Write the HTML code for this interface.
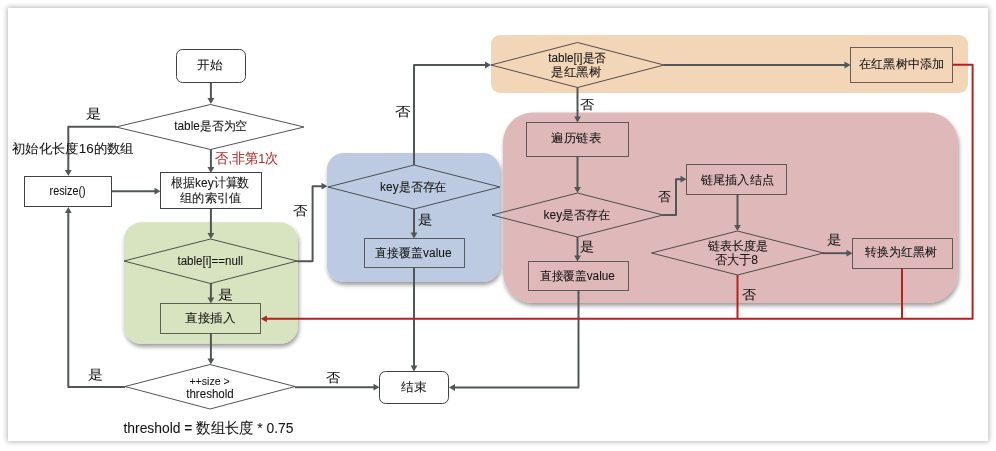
<!DOCTYPE html>
<html><head><meta charset="utf-8">
<style>
html,body{margin:0;padding:0;background:#fff;width:996px;height:451px;overflow:hidden}
.card{position:absolute;left:8px;top:8px;width:979.5px;height:433px;background:#fff;box-shadow:0 0 5px 1px rgba(0,0,0,0.28)}
svg{position:absolute;left:0;top:0;will-change:transform}
text{font-family:"Liberation Sans",sans-serif;dominant-baseline:central;stroke:currentColor;stroke-width:0.08px}
</style></head><body>
<div class="card"></div>
<svg width="996" height="451" viewBox="0 0 996 451">
<defs>
<filter id="sh" x="-10%" y="-10%" width="125%" height="130%">
<feGaussianBlur in="SourceAlpha" stdDeviation="2.2"/>
<feOffset dx="1.2" dy="2.5" result="o"/>
<feComponentTransfer><feFuncA type="linear" slope="0.4"/></feComponentTransfer>
<feMerge><feMergeNode/><feMergeNode in="SourceGraphic"/></feMerge>
</filter>
</defs>
<rect x="123.7" y="222.3" width="174.3" height="121.5" rx="18" fill="#D8E3BF" filter="url(#sh)"/>
<rect x="326.8" y="153" width="173.1" height="128.9" rx="17" fill="#BCCBE2" filter="url(#sh)"/>
<rect x="491" y="35" width="477" height="58" rx="9" fill="#F3D5B8"/>
<rect x="503" y="112.5" width="455" height="190.3" rx="30" fill="#DFB9B9" filter="url(#sh)"/>
<path d="M210.90 82.50 L210.90 99.00" fill="none" stroke="#515756" stroke-width="2" stroke-linejoin="round"/>
<path d="M210.90 104.00 L207.50 98.00 L214.30 98.00 Z" fill="#515756"/>
<path d="M116.00 126.80 L68.30 126.80 L68.30 171.00" fill="none" stroke="#515756" stroke-width="2" stroke-linejoin="round"/>
<path d="M68.30 176.00 L64.90 170.00 L71.70 170.00 Z" fill="#515756"/>
<path d="M210.90 149.00 L210.90 168.00" fill="none" stroke="#515756" stroke-width="2" stroke-linejoin="round"/>
<path d="M210.90 173.00 L207.50 167.00 L214.30 167.00 Z" fill="#515756"/>
<path d="M112.00 191.20 L155.50 191.20" fill="none" stroke="#515756" stroke-width="2" stroke-linejoin="round"/>
<path d="M160.50 191.20 L154.50 194.60 L154.50 187.80 Z" fill="#515756"/>
<path d="M210.90 209.00 L210.90 234.00" fill="none" stroke="#515756" stroke-width="2" stroke-linejoin="round"/>
<path d="M210.90 239.00 L207.50 233.00 L214.30 233.00 Z" fill="#515756"/>
<path d="M297.00 261.20 L312.60 261.20 L312.60 186.20 L322.50 186.20" fill="none" stroke="#515756" stroke-width="2" stroke-linejoin="round"/>
<path d="M327.50 186.20 L321.50 189.60 L321.50 182.80 Z" fill="#515756"/>
<path d="M210.90 283.00 L210.90 298.50" fill="none" stroke="#515756" stroke-width="2" stroke-linejoin="round"/>
<path d="M210.90 303.50 L207.50 297.50 L214.30 297.50 Z" fill="#515756"/>
<path d="M210.90 333.50 L210.90 359.50" fill="none" stroke="#515756" stroke-width="2" stroke-linejoin="round"/>
<path d="M210.90 364.50 L207.50 358.50 L214.30 358.50 Z" fill="#515756"/>
<path d="M125.00 386.90 L68.30 386.90 L68.30 212.00" fill="none" stroke="#515756" stroke-width="2" stroke-linejoin="round"/>
<path d="M68.30 207.00 L71.70 213.00 L64.90 213.00 Z" fill="#515756"/>
<path d="M295.00 387.20 L374.50 387.20" fill="none" stroke="#515756" stroke-width="2" stroke-linejoin="round"/>
<path d="M379.50 387.20 L373.50 390.60 L373.50 383.80 Z" fill="#515756"/>
<path d="M414.00 165.00 L414.00 65.00 L486.00 65.00" fill="none" stroke="#515756" stroke-width="2" stroke-linejoin="round"/>
<path d="M491.00 65.00 L485.00 68.40 L485.00 61.60 Z" fill="#515756"/>
<path d="M414.00 209.00 L414.00 233.50" fill="none" stroke="#515756" stroke-width="2" stroke-linejoin="round"/>
<path d="M414.00 238.50 L410.60 232.50 L417.40 232.50 Z" fill="#515756"/>
<path d="M414.00 268.00 L414.00 366.50" fill="none" stroke="#515756" stroke-width="2" stroke-linejoin="round"/>
<path d="M414.00 371.50 L410.60 365.50 L417.40 365.50 Z" fill="#515756"/>
<path d="M664.00 65.00 L845.50 65.00" fill="none" stroke="#515756" stroke-width="2" stroke-linejoin="round"/>
<path d="M850.50 65.00 L844.50 68.40 L844.50 61.60 Z" fill="#515756"/>
<path d="M577.50 87.50 L577.50 117.50" fill="none" stroke="#515756" stroke-width="2" stroke-linejoin="round"/>
<path d="M577.50 122.50 L574.10 116.50 L580.90 116.50 Z" fill="#515756"/>
<path d="M577.50 156.50 L577.50 188.00" fill="none" stroke="#515756" stroke-width="2" stroke-linejoin="round"/>
<path d="M577.50 193.00 L574.10 187.00 L580.90 187.00 Z" fill="#515756"/>
<path d="M663.00 215.00 L676.00 215.00 L676.00 179.20 L681.50 179.20" fill="none" stroke="#515756" stroke-width="2" stroke-linejoin="round"/>
<path d="M686.50 179.20 L680.50 182.60 L680.50 175.80 Z" fill="#515756"/>
<path d="M577.50 237.00 L577.50 256.50" fill="none" stroke="#515756" stroke-width="2" stroke-linejoin="round"/>
<path d="M577.50 261.50 L574.10 255.50 L580.90 255.50 Z" fill="#515756"/>
<path d="M578.50 290.50 L578.50 387.50 L454.00 387.50" fill="none" stroke="#515756" stroke-width="2" stroke-linejoin="round"/>
<path d="M449.00 387.50 L455.00 384.10 L455.00 390.90 Z" fill="#515756"/>
<path d="M737.50 194.50 L737.50 226.00" fill="none" stroke="#515756" stroke-width="2" stroke-linejoin="round"/>
<path d="M737.50 231.00 L734.10 225.00 L740.90 225.00 Z" fill="#515756"/>
<path d="M823.00 253.20 L847.50 253.20" fill="none" stroke="#515756" stroke-width="2" stroke-linejoin="round"/>
<path d="M852.50 253.20 L846.50 256.60 L846.50 249.80 Z" fill="#515756"/>
<path d="M952.70 64.80 L972.60 64.80 L972.60 318.80 L265.80 318.80" fill="none" stroke="#B42222" stroke-width="2" stroke-linejoin="round"/>
<path d="M260.80 318.80 L266.80 315.40 L266.80 322.20 Z" fill="#B42222"/>
<path d="M737.50 275.00 L737.50 318.80" fill="none" stroke="#B42222" stroke-width="2" stroke-linejoin="round"/>
<path d="M902.00 268.50 L902.00 318.80" fill="none" stroke="#B42222" stroke-width="2" stroke-linejoin="round"/>
<rect x="176.50" y="49.50" width="69.00" height="33.00" rx="6" fill="#fff" stroke="#404040" stroke-width="1"/>
<path d="M210.50 104.50 L304.00 127.00 L210.50 149.50 L116.00 127.00 Z" fill="#fff" stroke="#404040" stroke-width="0.9"/>
<rect x="24.50" y="176.50" width="87.00" height="30.00" rx="0" fill="#fff" stroke="#404040" stroke-width="1"/>
<rect x="160.50" y="172.50" width="101.00" height="36.00" rx="0" fill="#fff" stroke="#404040" stroke-width="1"/>
<path d="M210.50 239.00 L297.00 261.00 L210.50 283.50 L124.00 261.00 Z" fill="none" stroke="#404040" stroke-width="0.9"/>
<rect x="160.50" y="303.50" width="100.00" height="30.00" rx="0" fill="none" stroke="#404040cc" stroke-width="1"/>
<path d="M210.00 364.50 L295.00 386.50 L210.00 409.00 L125.00 386.50 Z" fill="#fff" stroke="#404040" stroke-width="0.9"/>
<rect x="379.50" y="371.50" width="69.00" height="32.00" rx="6" fill="#fff" stroke="#404040" stroke-width="1"/>
<path d="M414.00 165.00 L500.00 187.00 L414.00 209.00 L328.00 187.00 Z" fill="none" stroke="#404040" stroke-width="0.9"/>
<rect x="364.50" y="238.50" width="100.00" height="29.00" rx="0" fill="none" stroke="#404040cc" stroke-width="1"/>
<path d="M577.50 42.50 L664.00 65.00 L577.50 87.50 L491.00 65.00 Z" fill="none" stroke="#404040" stroke-width="0.9"/>
<rect x="850.50" y="47.50" width="102.00" height="35.00" rx="0" fill="none" stroke="#404040cc" stroke-width="1"/>
<rect x="526.50" y="122.50" width="102.00" height="34.00" rx="0" fill="none" stroke="#404040cc" stroke-width="1"/>
<path d="M577.50 193.00 L663.00 215.00 L577.50 237.00 L492.00 215.00 Z" fill="none" stroke="#404040" stroke-width="0.9"/>
<rect x="528.50" y="261.50" width="100.00" height="29.00" rx="0" fill="none" stroke="#404040cc" stroke-width="1"/>
<rect x="686.50" y="164.50" width="100.00" height="30.00" rx="0" fill="none" stroke="#404040cc" stroke-width="1"/>
<path d="M737.50 231.00 L823.50 253.00 L737.50 275.00 L651.50 253.00 Z" fill="none" stroke="#404040" stroke-width="0.9"/>
<rect x="852.50" y="238.50" width="100.00" height="30.00" rx="0" fill="none" stroke="#404040cc" stroke-width="1"/>
<text x="209.75" y="65.40" font-size="12" fill="#161616" style="color:#161616" text-anchor="middle" textLength="25.25" lengthAdjust="spacingAndGlyphs">开始</text>
<text x="210.75" y="126.35" font-size="12" fill="#161616" style="color:#161616" text-anchor="middle" textLength="73.03" lengthAdjust="spacingAndGlyphs">table是否为空</text>
<text x="94.00" y="113.90" font-size="13" fill="#161616" style="color:#161616" text-anchor="middle" textLength="15.36" lengthAdjust="spacingAndGlyphs">是</text>
<text x="72.85" y="148.10" font-size="13" fill="#161616" style="color:#161616" text-anchor="middle" textLength="122.08" lengthAdjust="spacingAndGlyphs">初始化长度16的数组</text>
<text x="246.95" y="158.90" font-size="13.5" fill="#B52B27" style="color:#B52B27" text-anchor="middle" textLength="63.16" lengthAdjust="spacingAndGlyphs">否,非第1次</text>
<text x="67.60" y="190.70" font-size="12" fill="#161616" style="color:#161616" text-anchor="middle" textLength="36.12" lengthAdjust="spacingAndGlyphs">resize()</text>
<text x="210.30" y="182.45" font-size="13" fill="#161616" style="color:#161616" text-anchor="middle" textLength="78.13" lengthAdjust="spacingAndGlyphs">根据key计算数</text>
<text x="210.65" y="198.10" font-size="12" fill="#161616" style="color:#161616" text-anchor="middle" textLength="61.22" lengthAdjust="spacingAndGlyphs">组的索引值</text>
<text x="210.30" y="260.85" font-size="12" fill="#161616" style="color:#161616" text-anchor="middle" textLength="65.67" lengthAdjust="spacingAndGlyphs">table[i]==null</text>
<text x="225.80" y="294.25" font-size="13" fill="#161616" style="color:#161616" text-anchor="middle" textLength="15.14" lengthAdjust="spacingAndGlyphs">是</text>
<text x="210.30" y="317.90" font-size="12" fill="#161616" style="color:#161616" text-anchor="middle" textLength="50.11" lengthAdjust="spacingAndGlyphs">直接插入</text>
<text x="209.55" y="380.70" font-size="11.5" fill="#161616" style="color:#161616" text-anchor="middle" textLength="40.34" lengthAdjust="spacingAndGlyphs">++size &gt;</text>
<text x="210.00" y="393.75" font-size="12" fill="#161616" style="color:#161616" text-anchor="middle" textLength="47.57" lengthAdjust="spacingAndGlyphs">threshold</text>
<text x="95.70" y="374.05" font-size="13" fill="#161616" style="color:#161616" text-anchor="middle" textLength="14.9" lengthAdjust="spacingAndGlyphs">是</text>
<text x="332.65" y="377.45" font-size="13" fill="#161616" style="color:#161616" text-anchor="middle" textLength="14.3" lengthAdjust="spacingAndGlyphs">否</text>
<text x="413.95" y="387.20" font-size="12" fill="#161616" style="color:#161616" text-anchor="middle" textLength="25.46" lengthAdjust="spacingAndGlyphs">结束</text>
<text x="208.50" y="428.45" font-size="14.5" fill="#161616" style="color:#161616" text-anchor="middle" textLength="170.06" lengthAdjust="spacingAndGlyphs">threshold = 数组长度 * 0.75</text>
<text x="300.70" y="210.70" font-size="13" fill="#161616" style="color:#161616" text-anchor="middle" textLength="14.52" lengthAdjust="spacingAndGlyphs">否</text>
<text x="413.25" y="186.55" font-size="12" fill="#161616" style="color:#161616" text-anchor="middle" textLength="66.29" lengthAdjust="spacingAndGlyphs">key是否存在</text>
<text x="425.60" y="219.65" font-size="13" fill="#161616" style="color:#161616" text-anchor="middle" textLength="14.43" lengthAdjust="spacingAndGlyphs">是</text>
<text x="413.50" y="252.60" font-size="12" fill="#161616" style="color:#161616" text-anchor="middle" textLength="76.08" lengthAdjust="spacingAndGlyphs">直接覆盖value</text>
<text x="402.95" y="111.45" font-size="13" fill="#161616" style="color:#161616" text-anchor="middle" textLength="15.64" lengthAdjust="spacingAndGlyphs">否</text>
<text x="577.05" y="57.75" font-size="12" fill="#161616" style="color:#161616" text-anchor="middle" textLength="57.78" lengthAdjust="spacingAndGlyphs">table[i]是否</text>
<text x="576.40" y="72.00" font-size="12" fill="#161616" style="color:#161616" text-anchor="middle" textLength="49.84" lengthAdjust="spacingAndGlyphs">是红黑树</text>
<text x="901.65" y="64.30" font-size="12" fill="#161616" style="color:#161616" text-anchor="middle" textLength="85.02" lengthAdjust="spacingAndGlyphs">在红黑树中添加</text>
<text x="587.00" y="104.75" font-size="13" fill="#161616" style="color:#161616" text-anchor="middle" textLength="14.08" lengthAdjust="spacingAndGlyphs">否</text>
<text x="576.40" y="138.15" font-size="12" fill="#161616" style="color:#161616" text-anchor="middle" textLength="49.88" lengthAdjust="spacingAndGlyphs">遍历链表</text>
<text x="576.85" y="215.30" font-size="12" fill="#161616" style="color:#161616" text-anchor="middle" textLength="66.48" lengthAdjust="spacingAndGlyphs">key是否存在</text>
<text x="664.50" y="196.45" font-size="13" fill="#161616" style="color:#161616" text-anchor="middle" textLength="12.8" lengthAdjust="spacingAndGlyphs">否</text>
<text x="737.35" y="179.95" font-size="12" fill="#161616" style="color:#161616" text-anchor="middle" textLength="73.02" lengthAdjust="spacingAndGlyphs">链尾插入结点</text>
<text x="587.25" y="246.65" font-size="13" fill="#161616" style="color:#161616" text-anchor="middle" textLength="14.2" lengthAdjust="spacingAndGlyphs">是</text>
<text x="577.30" y="275.50" font-size="12" fill="#161616" style="color:#161616" text-anchor="middle" textLength="75.06" lengthAdjust="spacingAndGlyphs">直接覆盖value</text>
<text x="737.95" y="246.40" font-size="12" fill="#161616" style="color:#161616" text-anchor="middle" textLength="60.41" lengthAdjust="spacingAndGlyphs">链表长度是</text>
<text x="736.55" y="259.45" font-size="13" fill="#161616" style="color:#161616" text-anchor="middle" textLength="42.95" lengthAdjust="spacingAndGlyphs">否大于8</text>
<text x="834.00" y="239.80" font-size="13" fill="#161616" style="color:#161616" text-anchor="middle" textLength="14.43" lengthAdjust="spacingAndGlyphs">是</text>
<text x="901.15" y="252.25" font-size="12" fill="#161616" style="color:#161616" text-anchor="middle" textLength="71.4" lengthAdjust="spacingAndGlyphs">转换为红黑树</text>
<text x="749.00" y="294.85" font-size="13" fill="#161616" style="color:#161616" text-anchor="middle" textLength="14.08" lengthAdjust="spacingAndGlyphs">否</text>
</svg>
</body></html>
